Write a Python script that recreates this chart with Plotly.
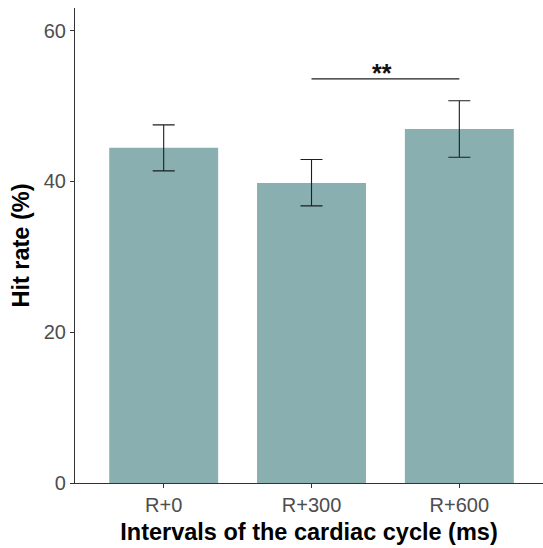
import plotly.graph_objects as go

# Hit rate per cardiac-cycle interval (mean with error bounds)
intervals = ["R+0", "R+300", "R+600"]
hit_rate = [44.45, 39.8, 46.95]
err_upper = [3.05, 3.1, 3.75]
err_lower = [3.05, 3.05, 3.75]

# Significance bracket between R+300 and R+600
sig_pair = ["R+300", "R+600"]
sig_y = 53.6
sig_label = "**"

tick_vals = [0, 20, 40, 60]

fig = go.Figure()
fig.add_trace(go.Bar(
    x=list(range(len(intervals))),
    y=hit_rate,
    width=0.737,
    marker=dict(color="#8AAFB1", line=dict(width=0)),
    error_y=dict(type="data", symmetric=False, array=err_upper, arrayminus=err_lower,
                 color="#1e1e1e", thickness=1.1, width=11),
    showlegend=False,
))

x0 = intervals.index(sig_pair[0])
x1 = intervals.index(sig_pair[1])
fig.add_shape(type="line", x0=x0, x1=x1, y0=sig_y, y1=sig_y,
              xref="x", yref="y", line=dict(color="#1e1e1e", width=1.3))
fig.add_annotation(x=(x0 + x1) / 2 - 0.02, y=sig_y, text="<b>" + sig_label + "</b>",
                   showarrow=False, yanchor="bottom", yshift=-10,
                   font=dict(size=25, color="#111111", family="Liberation Sans, Arial"))

fig.update_layout(
    width=543, height=548,
    margin=dict(l=75, r=0, t=8, b=65, pad=0),
    plot_bgcolor="white", paper_bgcolor="white",
    font=dict(family="Liberation Sans, Arial, sans-serif"),
    xaxis=dict(
        tickmode="array", tickvals=list(range(len(intervals))), ticktext=intervals,
        range=[-0.6, 2.566],
        showline=True, linecolor="#333333", linewidth=1.1,
        ticks="outside", ticklen=4, tickcolor="#333333", tickwidth=1,
        tickfont=dict(size=20, color="#4d4d4d"),
        showgrid=False, zeroline=False,
        title=dict(text="<b>Intervals of the cardiac cycle (ms)</b>",
                   font=dict(size=23.5, color="black"), standoff=8),
    ),
    yaxis=dict(
        range=[0, 63], tickvals=tick_vals,
        showline=True, linecolor="#333333", linewidth=1.1,
        ticks="outside", ticklen=4, tickcolor="#333333", tickwidth=1,
        tickfont=dict(size=20, color="#4d4d4d"),
        showgrid=False, zeroline=False,
        title=dict(text="<b>Hit rate (%)</b>",
                   font=dict(size=23.5, color="black"), standoff=7),
    ),
)

fig.write_html("out.html")
